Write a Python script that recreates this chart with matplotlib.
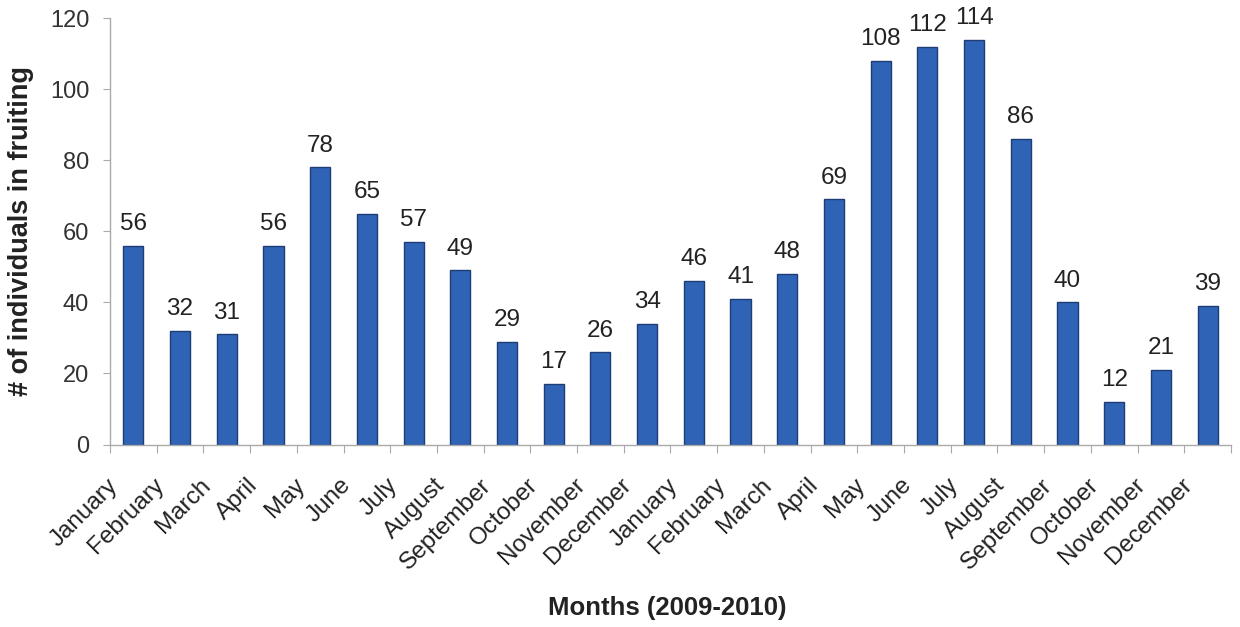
import matplotlib
matplotlib.use("Agg")
import matplotlib.pyplot as plt
import matplotlib.transforms as mtransforms
import numpy as np

months = ["January", "February", "March", "April", "May", "June", "July",
          "August", "September", "October", "November", "December"]
categories = months + months
counts = [56, 32, 31, 56, 78, 65, 57, 49, 29, 17, 26, 34,
          46, 41, 48, 69, 108, 112, 114, 86, 40, 12, 21, 39]
y_ticks = [0, 20, 40, 60, 80, 100, 120]

plt.rcParams['font.family'] = ['Liberation Sans', 'DejaVu Sans']

fig = plt.figure(figsize=(12.4, 6.27), dpi=100)
ax = fig.add_axes([0.0887, 0.291, 0.904, 0.680])

x = np.arange(len(categories))
ax.bar(x, counts, width=0.43, color='#2F63B6', edgecolor='#1E3D75', linewidth=1.0)

for xi, v in zip(x, counts):
    ax.text(xi, v + 3, str(v), ha='center', va='bottom', fontsize=17.5, color='#222222')

ax.set_xlim(-0.5, len(categories) - 0.5)
ax.set_ylim(0, 120)
ax.set_yticks(y_ticks)
ax.tick_params(axis='y', labelsize=17, length=5, pad=10, colors='#aaaaaa', labelcolor='#333333')

# category ticks sit between bars; labels sit under the bars
ax.set_xticks(np.arange(-0.5, len(categories), 1.0))
ax.set_xticklabels([])
ax.tick_params(axis='x', which='major', length=6, color='#aaaaaa')
ax.set_xticks(x, minor=True)
ax.set_xticklabels(categories, minor=True, rotation=45, ha='right', va='center',
                   rotation_mode='anchor', fontsize=17.5, color='#222222')
ax.tick_params(axis='x', which='minor', length=0, pad=27)
shift = mtransforms.ScaledTranslation(-0.19, 0, fig.dpi_scale_trans)
for lbl in ax.get_xticklabels(minor=True):
    lbl.set_transform(lbl.get_transform() + shift)

for side in ('top', 'right'):
    ax.spines[side].set_visible(False)
for side in ('left', 'bottom'):
    ax.spines[side].set_color('#aaaaaa')
    ax.spines[side].set_linewidth(1.0)

ax.set_ylabel('# of individuals in fruiting', fontsize=19.5, fontweight='bold',
              color='#222222')
ax.yaxis.set_label_coords(-0.068, 0.5)
ax.set_xlabel('Months (2009-2010)', fontsize=18.5, fontweight='bold', color='#222222')
ax.xaxis.set_label_coords(0.497, -0.355)

fig.savefig('out.png', dpi=100, facecolor='white')
